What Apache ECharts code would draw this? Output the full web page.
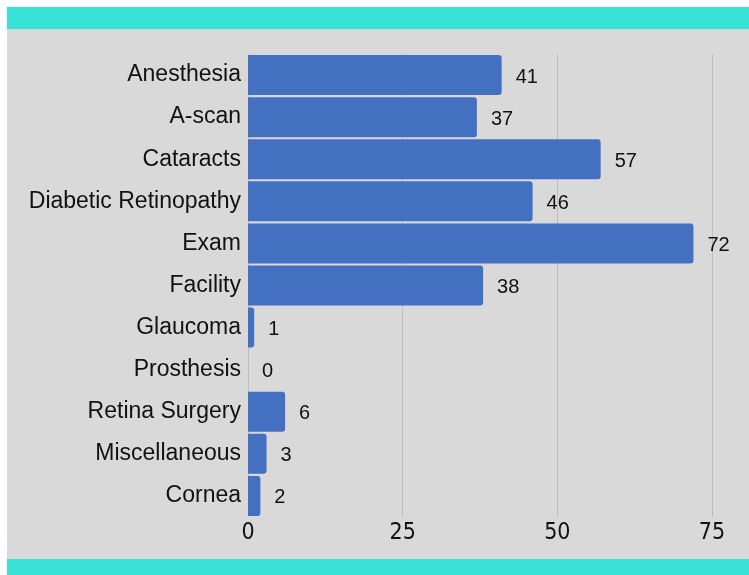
<!DOCTYPE html>
<html>
<head>
<meta charset="utf-8">
<script src="https://cdn.jsdelivr.net/npm/echarts@6/dist/echarts.min.js"></script>
<style>
  html, body { margin: 0; padding: 0; background: #fff; }
  #chart { width: 749px; height: 575px; }
</style>
</head>
<body>
<div id="chart"></div>
<script>
var categories = ['Anesthesia', 'A-scan', 'Cataracts', 'Diabetic Retinopathy', 'Exam', 'Facility',
    'Glaucoma', 'Prosthesis', 'Retina Surgery', 'Miscellaneous', 'Cornea'];
var counts = [41, 37, 57, 46, 72, 38, 1, 0, 6, 3, 2];
var xTicks = [0, 25, 50, 75];

var chart = echarts.init(document.getElementById('chart'));
chart.setOption({
    animation: false,
    textStyle: { fontFamily: 'Liberation Sans, Arial, sans-serif' },
    graphic: [
        // page frame: gray panel with teal bands top and bottom
        { type: 'rect', z: -10, shape: { x: 7, y: 7, width: 742, height: 568 }, style: { fill: '#d9d9d9' } },
        { type: 'rect', z: -9, shape: { x: 7, y: 7, width: 742, height: 22 }, style: { fill: '#38e3d6' } },
        { type: 'rect', z: -9, shape: { x: 7, y: 559, width: 742, height: 16 }, style: { fill: '#38e3d6' } }
    ],
    grid: { left: 248, right: 37, top: 54, bottom: 58 },
    xAxis: {
        type: 'value',
        min: xTicks[0],
        max: xTicks[xTicks.length - 1],
        interval: 25,
        axisLine: { show: false },
        axisTick: { show: false },
        axisLabel: { color: '#111', fontSize: 23, margin: 5, fontFamily: 'Liberation Sans Narrow, DejaVu Sans Condensed, sans-serif' },
        splitLine: { show: true, lineStyle: { color: '#bdbdbd', width: 1 } }
    },
    yAxis: {
        type: 'category',
        data: categories,
        inverse: true,
        axisLine: { show: false },
        axisTick: { show: false },
        axisLabel: { color: '#111', fontSize: 23, margin: 7 }
    },
    series: [{
        type: 'bar',
        data: counts,
        barCategoryGap: '5%',
        itemStyle: { color: '#4470c1', borderRadius: [0, 3, 3, 0] },
        label: {
            show: true,
            position: 'right',
            distance: 14,
            offset: [0, 2],
            color: '#111',
            fontSize: 20
        }
    }]
});
</script>
</body>
</html>
